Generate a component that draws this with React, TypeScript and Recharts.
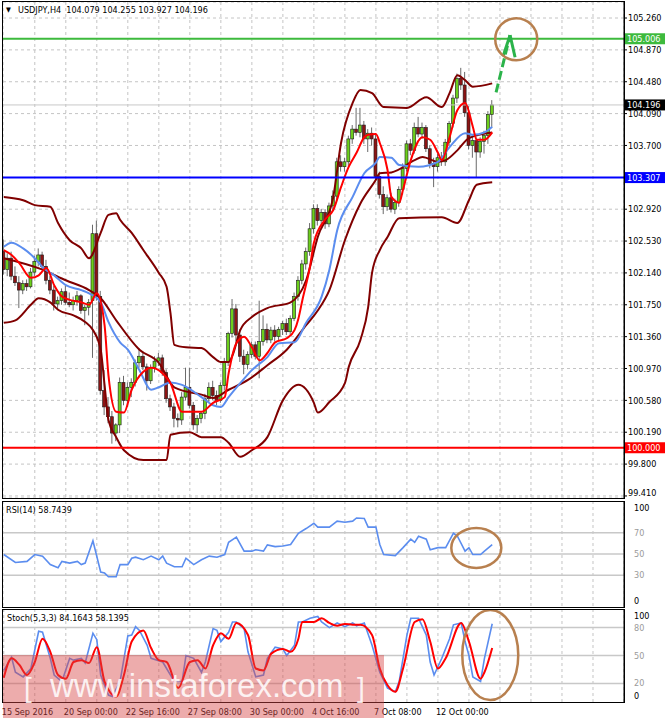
import React from 'react';
import {
    ComposedChart, Bar, Line, XAxis, YAxis, CartesianGrid,
    ReferenceLine, ReferenceDot
} from 'recharts';

const FONT = "'DejaVu Sans Condensed', 'DejaVu Sans', sans-serif";
const FS = 9;
const GRID = '#c4c4c4';
const X_DOMAIN = [-0.2, 160];

// USDJPY H4 candles, [open, high, low, close], 15 Sep 08:00 .. 14 Oct 08:00
const ohlc: [number, number, number, number][] = [
    [102.40, 102.55, 102.12, 102.18], [102.18, 102.38, 102.10, 102.32], [102.32, 102.40, 102.05, 102.10],
    [102.10, 102.22, 101.98, 102.02], [102.02, 102.10, 101.71, 101.93], [101.93, 102.05, 101.88, 102.01],
    [102.01, 102.06, 101.92, 101.97], [101.97, 102.20, 101.95, 102.15], [102.15, 102.35, 102.10, 102.28],
    [102.28, 102.44, 102.22, 102.36], [102.36, 102.40, 102.18, 102.22], [102.22, 102.30, 102.00, 102.05],
    [102.05, 102.10, 101.88, 101.93], [101.93, 101.98, 101.68, 101.76], [101.76, 101.85, 101.70, 101.80],
    [101.80, 101.95, 101.75, 101.91], [101.91, 101.98, 101.75, 101.78], [101.78, 101.90, 101.72, 101.75],
    [101.75, 101.85, 101.68, 101.80], [101.80, 101.92, 101.74, 101.86], [101.86, 101.88, 101.64, 101.68],
    [101.68, 101.75, 101.50, 101.72], [101.72, 101.82, 101.62, 101.78], [101.80, 102.73, 101.10, 102.62],
    [102.62, 102.78, 101.80, 101.85], [101.85, 101.92, 100.65, 100.70], [100.70, 100.95, 100.40, 100.50],
    [100.50, 100.62, 100.30, 100.38], [100.38, 100.45, 100.05, 100.18], [100.18, 100.30, 100.08, 100.28],
    [100.28, 100.86, 100.18, 100.80], [100.80, 100.88, 100.52, 100.58], [100.58, 100.80, 100.50, 100.74],
    [100.74, 100.85, 100.62, 100.80], [100.80, 101.08, 100.75, 101.04], [101.04, 101.22, 100.98, 101.12],
    [101.12, 101.18, 100.95, 100.99], [100.99, 101.03, 100.70, 100.82], [100.82, 101.02, 100.78, 100.98],
    [100.98, 101.12, 100.92, 101.06], [101.06, 101.16, 101.00, 101.10], [101.10, 101.14, 100.88, 100.92],
    [100.92, 100.96, 100.55, 100.60], [100.60, 100.65, 100.45, 100.50], [100.50, 100.55, 100.25, 100.36],
    [100.36, 100.42, 100.25, 100.34], [100.34, 100.68, 100.28, 100.62], [100.62, 100.98, 100.58, 100.74],
    [100.74, 100.98, 100.48, 100.52], [100.52, 100.56, 100.22, 100.28], [100.28, 100.40, 100.18, 100.36],
    [100.36, 100.45, 100.30, 100.42], [100.42, 100.66, 100.35, 100.60], [100.60, 100.80, 100.55, 100.74],
    [100.74, 100.82, 100.58, 100.64], [100.64, 100.70, 100.52, 100.58], [100.58, 100.80, 100.55, 100.76],
    [100.76, 101.10, 100.70, 101.05], [101.05, 101.42, 101.00, 101.40], [101.40, 101.82, 101.35, 101.70],
    [101.70, 101.76, 101.30, 101.38], [101.38, 101.45, 101.05, 101.12], [101.12, 101.20, 100.90, 101.02],
    [101.02, 101.18, 100.96, 101.14], [101.14, 101.30, 101.10, 101.26], [101.26, 101.30, 101.08, 101.12],
    [101.12, 101.80, 100.85, 101.30], [101.30, 101.62, 101.25, 101.45], [101.45, 101.52, 101.28, 101.32],
    [101.32, 101.48, 101.28, 101.44], [101.44, 101.50, 101.30, 101.36], [101.36, 101.48, 101.32, 101.45],
    [101.45, 101.55, 101.38, 101.52], [101.52, 101.58, 101.38, 101.42], [101.42, 101.62, 101.38, 101.58],
    [101.58, 101.90, 101.55, 101.85], [101.85, 102.10, 101.80, 102.05], [102.05, 102.30, 102.00, 102.25],
    [102.25, 102.45, 102.18, 102.40], [102.40, 102.75, 102.35, 102.68], [102.68, 102.98, 102.62, 102.93],
    [102.93, 102.98, 102.72, 102.78], [102.78, 102.92, 102.70, 102.88], [102.88, 102.92, 102.68, 102.74],
    [102.74, 103.00, 102.70, 102.96], [102.96, 103.15, 102.90, 103.08], [103.08, 103.55, 103.02, 103.50],
    [103.50, 103.58, 103.38, 103.44], [103.44, 103.55, 103.38, 103.50], [103.50, 103.82, 103.45, 103.78],
    [103.78, 103.95, 103.72, 103.90], [103.90, 104.16, 103.82, 103.86], [103.86, 104.16, 103.80, 103.95],
    [103.95, 104.00, 103.72, 103.78], [103.78, 103.90, 103.62, 103.85], [103.85, 103.92, 103.70, 103.78],
    [103.78, 103.84, 103.28, 103.32], [103.32, 103.38, 103.05, 103.10], [103.10, 103.20, 102.86, 102.95],
    [102.95, 103.10, 102.90, 103.06], [103.06, 103.12, 102.88, 102.92], [102.92, 103.05, 102.86, 103.00],
    [103.00, 103.20, 102.95, 103.16], [103.16, 103.48, 103.10, 103.42], [103.42, 103.76, 103.38, 103.72],
    [103.72, 103.78, 103.58, 103.64], [103.64, 103.98, 103.60, 103.92], [103.92, 104.05, 103.80, 103.84],
    [103.84, 103.98, 103.78, 103.92], [103.92, 103.95, 103.62, 103.66], [103.66, 103.70, 103.42, 103.48],
    [103.48, 103.55, 103.19, 103.44], [103.44, 103.60, 103.38, 103.55], [103.55, 103.62, 103.45, 103.50],
    [103.50, 103.78, 103.45, 103.74], [103.74, 104.00, 103.70, 103.97], [103.97, 104.32, 103.92, 104.28],
    [104.28, 104.58, 104.22, 104.52], [104.52, 104.65, 104.38, 104.44], [104.44, 104.60, 104.05, 104.10],
    [104.10, 104.18, 103.65, 103.70], [103.70, 103.82, 103.55, 103.76], [103.76, 103.80, 103.31, 103.62],
    [103.62, 103.80, 103.55, 103.75], [103.75, 103.88, 103.60, 103.82], [103.82, 104.12, 103.72, 104.08],
    [104.079, 104.255, 103.927, 104.196],
];

// overlays, [bar index, value]
const fastMa = [
    [0, 102.42], [2, 102.36], [4, 102.26], [7, 102.08], [9, 102.11], [11, 102.20], [13, 101.99], [15, 101.85],
    [17, 101.81], [20, 101.78], [22, 101.75], [24, 101.89], [26, 101.50], [27, 100.89], [29, 100.44], [31, 100.43],
    [33, 100.71], [36, 100.93], [38, 100.98], [41, 100.91], [43, 100.79], [46, 100.44], [49, 100.44], [51, 100.44],
    [54, 100.55], [57, 100.62], [58, 100.91], [60, 101.28], [62, 101.36], [64, 101.23], [66, 101.07], [68, 101.16],
    [70, 101.29], [73, 101.34], [75, 101.44], [76, 101.58], [77, 101.80], [79, 102.22], [80, 102.51], [83, 102.80],
    [85, 102.91], [87, 103.19], [89, 103.44], [91, 103.61], [93, 103.80], [94, 103.83], [96, 103.84], [97, 103.73],
    [99, 103.40], [100, 103.07], [102, 103.00], [103, 103.16], [105, 103.52], [108, 103.80], [110, 103.77],
    [112, 103.61], [113, 103.52], [115, 103.80], [117, 104.13], [119, 104.22], [121, 103.93], [122, 103.77],
    [124, 103.77], [126, 103.86],
];
const slowMa = [
    [0, 102.46], [2, 102.51], [5, 102.44], [8, 102.32], [10, 102.21], [13, 102.11], [16, 101.99], [20, 101.93],
    [22, 101.89], [25, 101.78], [27, 101.54], [30, 101.29], [32, 101.20], [35, 100.95], [38, 100.71], [40, 100.74],
    [43, 100.80], [46, 100.77], [51, 100.62], [54, 100.52], [56, 100.50], [58, 100.62], [61, 100.79], [64, 100.95],
    [68, 101.11], [71, 101.28], [75, 101.29], [78, 101.53], [82, 101.85], [84, 102.18], [86, 102.66], [90, 103.07],
    [93, 103.36], [96, 103.49], [97, 103.56], [100, 103.55], [102, 103.46], [107, 103.44], [112, 103.50],
    [115, 103.68], [119, 103.85], [121, 103.83], [124, 103.86], [126, 103.93],
];
const bandUpper = [
    [0, 103.07], [5, 103.03], [8, 102.97], [12, 102.95], [14, 102.75], [17, 102.54], [20, 102.44], [22, 102.32],
    [25, 102.63], [27, 102.85], [29, 102.87], [30, 102.79], [33, 102.63], [36, 102.42], [40, 102.14], [42, 101.97],
    [43, 101.65], [44, 101.26], [47, 101.23], [51, 101.22], [54, 101.11], [56, 101.05], [58, 101.05], [59, 101.13],
    [61, 101.44], [64, 101.60], [68, 101.71], [74, 101.78], [78, 102.05], [81, 102.58], [85, 103.07], [87, 103.73],
    [90, 104.22], [92, 104.38], [95, 104.34], [98, 104.17], [104, 104.16], [109, 104.29], [113, 104.17],
    [115, 104.34], [117, 104.56], [119, 104.50], [121, 104.42], [126, 104.46],
];
const bandMiddle = [
    [0, 102.32], [10, 102.18], [16, 102.05], [22, 101.93], [25, 101.83], [29, 101.56], [35, 101.20], [40, 101.04],
    [44, 100.74], [51, 100.65], [54, 100.61], [58, 100.71], [63, 100.83], [68, 101.01], [73, 101.20], [78, 101.50],
    [81, 101.68], [84, 101.93], [88, 102.54], [92, 102.99], [96, 103.28], [97, 103.36], [100, 103.37],
    [106, 103.52], [108, 103.56], [112, 103.50], [114, 103.52], [117, 103.64], [120, 103.79], [126, 103.86],
];
const bandLower = [
    [0, 101.53], [3, 101.56], [7, 101.75], [9, 101.83], [12, 101.78], [14, 101.69], [18, 101.62], [21, 101.54],
    [23, 101.44], [25, 101.20], [26, 100.77], [27, 100.34], [29, 100.13], [31, 99.97], [36, 99.85], [42, 99.85],
    [43, 100.16], [48, 100.19], [51, 100.13], [56, 100.13], [58, 100.06], [61, 99.89], [64, 99.97], [68, 100.13],
    [72, 100.58], [76, 100.77], [80, 100.55], [81, 100.43], [84, 100.56], [88, 100.79], [89, 100.99], [92, 101.32],
    [94, 101.72], [95, 102.14], [97, 102.42], [99, 102.58], [102, 102.81], [113, 102.82], [117, 102.75],
    [120, 103.03], [122, 103.22], [126, 103.25],
];
const rsi14 = [
    [0, 49.5], [3, 42], [6, 43], [8, 49.5], [10, 48], [12, 40], [14, 37], [15, 43], [17, 41.4], [19, 43], [20, 40],
    [21, 41.4], [23, 62.5], [25, 33], [26, 32], [27, 28.5], [29, 28.5], [30, 40], [32, 40], [33, 46], [34, 47],
    [36, 44.6], [38, 48], [40, 44.6], [41, 48], [42, 41.4], [44, 38], [46, 38], [47, 46], [49, 40], [51, 44.6],
    [53, 48], [55, 47], [57, 49.5], [58, 61], [60, 66], [62, 52.7], [64, 52.7], [65, 54], [67, 52.7], [68, 58.6],
    [70, 57], [72, 57.6], [74, 59], [76, 69.6], [78, 74], [80, 79], [81, 75.4], [84, 75.4], [86, 81], [88, 80],
    [90, 81], [91, 84], [93, 83.5], [94, 75.4], [96, 75.4], [97, 59], [98, 49.5], [101, 48.5], [103, 56], [105, 64],
    [106, 61], [107, 66.7], [109, 64], [110, 54], [112, 56], [114, 56], [116, 69.6], [117, 67], [119, 52.7],
    [120, 56], [121, 49.5], [123, 49.5], [124, 52.7], [126, 58.74],
];
const stochK = [
    [0, 34], [2, 48], [3, 32], [5, 27], [7, 36], [9, 76], [10, 75], [12, 47], [13, 29], [15, 22], [17, 47], [18, 45],
    [20, 47], [21, 42], [23, 74], [24, 67], [25, 29], [27, 7.5], [28, 6], [30, 22], [32, 71], [33, 72], [34, 81],
    [35, 77], [37, 61], [38, 47], [41, 43], [42, 36], [44, 22], [46, 22], [47, 50], [49, 47], [51, 32], [52, 43],
    [54, 79], [55, 77], [56, 65], [58, 75], [59, 86], [60, 86], [62, 79], [63, 54], [65, 27], [67, 29], [68, 47],
    [70, 59], [72, 57], [73, 50], [75, 61], [76, 86], [77, 86], [79, 90], [81, 92], [82, 86], [84, 80], [86, 85],
    [88, 81], [90, 85], [91, 82], [93, 85], [95, 61], [97, 32], [99, 15], [101, 11], [102, 22], [104, 72], [105, 90],
    [107, 90], [109, 72], [110, 43], [111, 29], [113, 47], [115, 68], [116, 83], [118, 85], [119, 65], [120, 50],
    [121, 27], [123, 22], [124, 47], [126, 84.16],
];
const stochD = [
    [0, 26], [2, 47], [4, 40], [6, 29], [8, 43], [10, 68], [12, 54], [14, 29], [16, 25], [18, 43], [20, 45], [22, 42],
    [24, 59], [26, 22], [29, 6], [31, 29], [33, 65], [36, 77], [38, 58], [40, 45], [42, 43], [45, 15], [48, 43],
    [50, 45], [52, 36], [54, 61], [56, 74], [58, 68], [60, 85], [63, 72], [65, 36], [67, 34], [69, 52], [72, 57],
    [74, 54], [76, 68], [77, 86], [80, 86], [82, 90], [84, 85], [86, 82], [88, 84], [90, 83], [92, 83], [95, 72],
    [97, 36], [99, 18], [101, 11], [103, 36], [106, 86], [108, 89], [110, 65], [112, 36], [114, 47], [118, 85],
    [120, 65], [123, 25], [124, 32], [126, 58.14],
];

const priceTicks = [99.41, 99.8, 100.19, 100.58, 100.97, 101.36, 101.75, 102.14, 102.53, 102.92, 103.7, 104.09, 104.48, 104.87, 105.26];
const gridTicks = [8, 16, 24, 32, 40, 48, 56, 64, 72, 80, 88, 96, 104, 112, 120, 128, 136, 144, 152];
const timeTicks = [0, 16, 32, 48, 64, 80, 96, 112];
const timeLabels = ['15 Sep 2016', '20 Sep 00:00', '22 Sep 16:00', '27 Sep 08:00', '30 Sep 00:00', '4 Oct 16:00', '7 Oct 08:00', '12 Oct 00:00'];

const candleRows = ohlc.map(([o, h, l, c], i) => ({ i, o, h, l, c, range: [l, h] }));
const rows = (pts: number[][]) => pts.map(([i, v]) => ({ i, v }));

function Candle(props: any) {
    const { x, y, width, height, payload } = props;
    if (!payload) return null;
    const { o, h, l, c } = payload;
    const top = Math.min(y, y + height);
    const span = Math.abs(height);
    const py = (p: number) => (h === l ? top : top + ((h - p) / (h - l)) * span);
    const cx = x + width / 2;
    const bTop = py(Math.max(o, c));
    const bBot = py(Math.min(o, c));
    return (
        <g>
            <line x1={cx} x2={cx} y1={top} y2={top + span} stroke="#6a6a6a" strokeWidth={1} />
            <rect x={cx - 1.5} y={bTop} width={3} height={Math.max(1, bBot - bTop)}
                fill={c >= o ? '#6ccf1c' : '#8c1414'} stroke="#1c1c1c" strokeWidth={0.6} />
        </g>
    );
}

function PriceTag(props: any) {
    const { viewBox, text, bg } = props;
    if (!viewBox) return null;
    const x = viewBox.x + viewBox.width;
    return (
        <g>
            <rect x={x} y={viewBox.y - 5.5} width={41} height={11} fill={bg} />
            <text x={x + 3} y={viewBox.y + 3.3} fontSize={FS} fill="#fff" fontFamily={FONT}>{text}</text>
        </g>
    );
}

function PriceTick(props: any) {
    const { x, y, payload } = props;
    // the lowest label sits on the panel edge; lift it so it stays whole
    const yy = payload.value < 99.5 ? y - 3 : y;
    return (
        <text x={x} y={yy} dy="0.355em" fontSize={FS} fill="#000" fontFamily={FONT}>{payload.value.toFixed(3)}</text>
    );
}

function LevelTick(props: any) {
    const { x, y, payload } = props;
    const v = payload.value;
    const yy = v === 100 ? y + 7 : v === 0 ? y - 6 : y;
    const edge = v === 0 || v === 100;
    return (
        <text x={x + 2} y={yy + 3} fontSize={FS} fill={edge ? '#000' : '#9a9a9a'} fontFamily={FONT}>{v}</text>
    );
}

function TimeTick(props: any) {
    const { x, y, payload } = props;
    const k = timeTicks.indexOf(payload.value);
    if (k < 0) return <g />;
    return (
        <text x={x - 2} y={y + 5} fontSize={FS} fill="#000" fontFamily={FONT}>{timeLabels[k]}</text>
    );
}

const ellipse = (rx: number, ry: number) => (p: any) => (
    <ellipse cx={p.cx} cy={p.cy} rx={rx} ry={ry} fill="none" stroke="#b8804f" strokeWidth={2.5} />
);

const frame = (top: number, height: number): React.CSSProperties => ({
    position: 'absolute', left: 2, top, width: 623, height, border: '1px solid #000',
    boxSizing: 'border-box', pointerEvents: 'none',
});

const caption: React.CSSProperties = {
    position: 'absolute', fontFamily: FONT, fontSize: FS, color: '#000', whiteSpace: 'pre', lineHeight: '10px',
};

const mark: React.CSSProperties = {
    position: 'absolute', fontFamily: "'Liberation Sans', sans-serif", color: 'rgba(255,255,255,0.85)',
};

export default function App() {
    return (
        <div style={{ position: 'absolute', left: 0, top: 0, width: 665, height: 722, background: '#fff', overflow: 'hidden' }}>
            <div style={{ position: 'absolute', left: 0, top: 0 }}>
                <ComposedChart width={665} height={498} data={candleRows} margin={{ top: 2, right: 0, bottom: 0, left: 3 }}>
                    <CartesianGrid stroke={GRID} strokeDasharray="3 3" />
                    <XAxis type="number" dataKey="i" domain={X_DOMAIN} ticks={gridTicks} allowDataOverflow hide />
                    <YAxis orientation="right" type="number" domain={[99.385, 105.456]} ticks={priceTicks} allowDataOverflow
                        width={41} interval={0} tick={<PriceTick />} tickSize={3} tickMargin={1}
                        axisLine={{ stroke: '#000' }} tickLine={{ stroke: '#000' }} />
                    <ReferenceLine y={104.196} stroke="#c8c8c8" label={<PriceTag text="104.196" bg="#000" />} />
                    <Bar dataKey="range" barSize={3} shape={<Candle />} isAnimationActive={false} />
                    <Line data={rows(bandUpper)} dataKey="v" type="monotone" stroke="#800000" strokeWidth={2} dot={false} isAnimationActive={false} />
                    <Line data={rows(bandMiddle)} dataKey="v" type="monotone" stroke="#800000" strokeWidth={2} dot={false} isAnimationActive={false} />
                    <Line data={rows(bandLower)} dataKey="v" type="monotone" stroke="#800000" strokeWidth={2} dot={false} isAnimationActive={false} />
                    <Line data={rows(slowMa)} dataKey="v" type="monotone" stroke="#5b8def" strokeWidth={2} dot={false} isAnimationActive={false} />
                    <Line data={rows(fastMa)} dataKey="v" type="monotone" stroke="#ff0000" strokeWidth={2} dot={false} isAnimationActive={false} />
                    <ReferenceLine y={105.006} stroke="#3dba3d" strokeWidth={2} label={<PriceTag text="105.006" bg="#3dba3d" />} />
                    <ReferenceLine y={103.307} stroke="#0000ff" strokeWidth={2} label={<PriceTag text="103.307" bg="#0000ff" />} />
                    <ReferenceLine y={100.0} stroke="#ff0000" strokeWidth={2} label={<PriceTag text="100.000" bg="#ff0000" />} />
                    <ReferenceLine segment={[{ x: 127.0, y: 104.35 }, { x: 130.6, y: 105.05 }]} stroke="#2bb34a" strokeWidth={3} strokeDasharray="9 4" />
                    <ReferenceLine segment={[{ x: 130.6, y: 105.05 }, { x: 128.8, y: 104.79 }]} stroke="#2bb34a" strokeWidth={3} />
                    <ReferenceLine segment={[{ x: 130.6, y: 105.05 }, { x: 131.9, y: 104.78 }]} stroke="#2bb34a" strokeWidth={3} />
                    <ReferenceDot x={132.2} y={105.0} r={21} fill="none" stroke="#b8804f" strokeWidth={2.5} />
                </ComposedChart>
            </div>

            <div style={{ position: 'absolute', left: 0, top: 501 }}>
                <ComposedChart width={665} height={106} margin={{ top: 0, right: 0, bottom: 0, left: 3 }}>
                    <CartesianGrid stroke={GRID} strokeDasharray="3 3" horizontal={false} />
                    <XAxis type="number" dataKey="i" domain={X_DOMAIN} ticks={gridTicks} allowDataOverflow hide />
                    <YAxis orientation="right" type="number" domain={[0, 100]} ticks={[0, 30, 50, 70, 100]} allowDataOverflow
                        width={41} interval={0} tick={<LevelTick />} tickLine={false} axisLine={{ stroke: '#000' }} />
                    {[30, 50, 70].map((v) => <ReferenceLine key={v} y={v} stroke="#c8c8c8" strokeWidth={1.5} />)}
                    <Line data={rows(rsi14)} dataKey="v" type="linear" stroke="#5b8def" strokeWidth={1.6} dot={false} isAnimationActive={false} />
                    <ReferenceDot x={121.9} y={55.7} r={1} shape={ellipse(25, 20)} />
                </ComposedChart>
            </div>

            <div style={{ position: 'absolute', left: 0, top: 609 }}>
                <ComposedChart width={665} height={113} margin={{ top: 0, right: 0, bottom: 0, left: 3 }}>
                    <CartesianGrid stroke={GRID} strokeDasharray="3 3" horizontal={false} />
                    <XAxis type="number" dataKey="i" domain={X_DOMAIN} ticks={[0, ...gridTicks]} allowDataOverflow interval={0}
                        height={20} tick={<TimeTick />} tickLine={false} axisLine={false} />
                    <YAxis orientation="right" type="number" domain={[0, 100]} ticks={[0, 20, 50, 80, 100]} allowDataOverflow
                        width={41} interval={0} tick={<LevelTick />} tickLine={false} axisLine={{ stroke: '#000' }} />
                    {[20, 50, 80].map((v) => <ReferenceLine key={v} y={v} stroke="#c8c8c8" strokeWidth={1.5} />)}
                    <Line data={rows(stochK)} dataKey="v" type="linear" stroke="#5b8def" strokeWidth={1.6} dot={false} isAnimationActive={false} />
                    <Line data={rows(stochD)} dataKey="v" type="monotone" stroke="#ff0000" strokeWidth={2} dot={false} isAnimationActive={false} />
                    <ReferenceDot x={125.5} y={50.5} r={1} shape={ellipse(28, 45)} />
                </ComposedChart>
            </div>

            <div style={frame(1, 498)} />
            <div style={frame(501, 107)} />
            <div style={frame(609, 94)} />

            <div style={{ ...caption, left: 6, top: 5, fontSize: 7 }}>▼</div>
            <div style={{ ...caption, left: 18, top: 5 }}>USDJPY,H4  104.079 104.255 103.927 104.196</div>
            <div style={{ ...caption, left: 6, top: 505 }}>RSI(14) 58.7439</div>
            <div style={{ ...caption, left: 7, top: 613 }}>Stoch(5,3,3) 84.1643 58.1395</div>

            <div style={{ position: 'absolute', left: 3, top: 655, width: 381, height: 63, background: 'rgba(214, 70, 70, 0.45)', pointerEvents: 'none' }}>
                <div style={{ ...mark, left: 21, top: 19, fontSize: 28, lineHeight: '28px' }}>[</div>
                <div style={{ ...mark, left: 47, top: 14, fontSize: 33, lineHeight: '34px' }}>www.instaforex.com</div>
                <div style={{ ...mark, left: 354, top: 19, fontSize: 28, lineHeight: '28px' }}>]</div>
            </div>
        </div>
    );
}
